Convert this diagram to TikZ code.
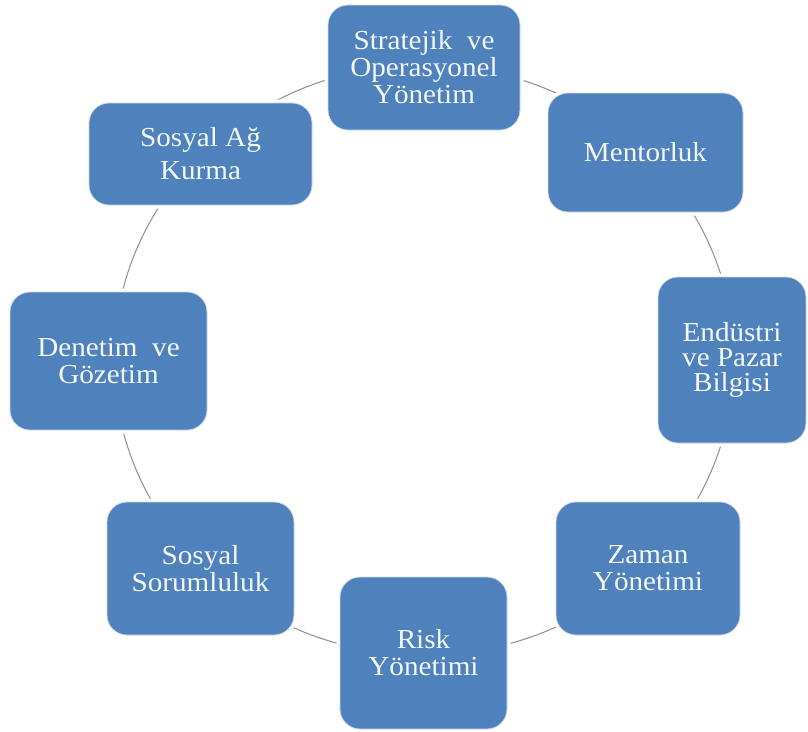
\documentclass[tikz,border=0pt]{standalone}
\usepackage{fontspec}
\setmainfont{Liberation Serif}
\newfontfamily\boxfont[FakeStretch=1.06]{Liberation Serif}
\definecolor{boxblue}{HTML}{4F81BD}
\definecolor{ringgray}{HTML}{8E8E8E}
\definecolor{boxtext}{HTML}{F4F8FC}
\begin{document}
\begin{tikzpicture}[x=1pt,y=-1pt,
  stepbox/.style={rounded corners=20pt, fill=boxblue, draw=white!70!boxblue,
    line width=0.8pt, text=boxtext, align=center,
    font=\boxfont\fontsize{27.5}{27}\selectfont, inner sep=0pt,
    preaction={draw=white, line width=7pt}},
  ring/.style={draw=ringgray, line width=1pt}]
\useasboundingbox[fill=white] (0,0) rectangle (808,731);
\coordinate (c) at (424,360);
\draw[ring] (c) ellipse [x radius=310pt, y radius=295pt];
\node[stepbox, minimum width=192pt, minimum height=125pt] (b1) at (424,67.5) {Stratejik\ \ ve\\Operasyonel\\Yönetim};
\node[stepbox, minimum width=195pt, minimum height=119pt] (b2) at (645.5,152.5) {Mentorluk};
\node[stepbox, minimum width=148pt, minimum height=166pt, font=\boxfont\fontsize{27.5}{25}\selectfont] (b3) at (732,360) {Endüstri\\ve Pazar\\Bilgisi};
\node[stepbox, minimum width=184pt, minimum height=133pt] (b4) at (648,568.5) {Zaman\\Yönetimi};
\node[stepbox, minimum width=167pt, minimum height=152pt] (b5) at (423.5,653) {Risk\\Yönetimi};
\node[stepbox, minimum width=187pt, minimum height=133pt] (b6) at (200.5,568.5) {Sosyal\\Sorumluluk};
\node[stepbox, minimum width=197pt, minimum height=138pt] (b7) at (108.5,361) {Denetim\ \ ve\\Gözetim};
\node[stepbox, minimum width=223pt, minimum height=102pt, font=\boxfont\fontsize{27.5}{33}\selectfont] (b8) at (200.5,154) {Sosyal Ağ\\Kurma};
\end{tikzpicture}
\end{document}
